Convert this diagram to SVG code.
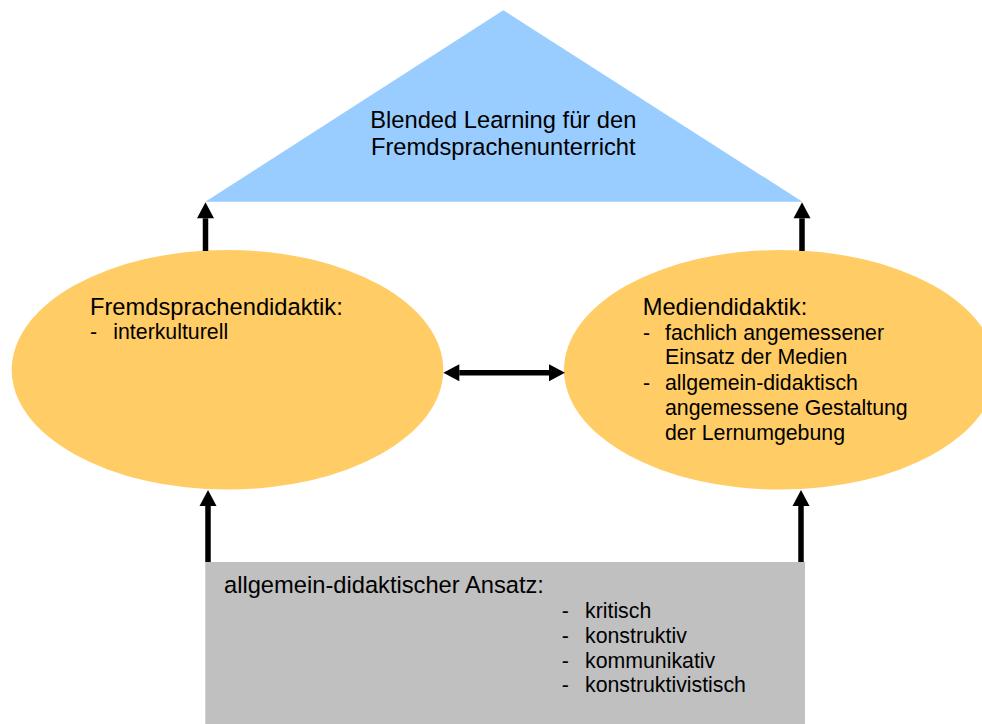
<svg xmlns="http://www.w3.org/2000/svg" width="982" height="724" viewBox="0 0 982 724">
  <style>
    .head { font-family: "Liberation Sans", Arial, sans-serif; font-size: 23.7px; fill: #000; }
    .item { font-family: "Liberation Sans", Arial, sans-serif; font-size: 21.3px; fill: #000; }
    .roof { fill: #99CCFF; }
    .pillar { fill: #FFCC66; }
    .base { fill: #C0C0C0; }
    .conn { stroke: #000; stroke-width: 5.5; fill: none; }
  </style>
  <defs>
    <marker id="arrow" markerUnits="userSpaceOnUse" markerWidth="16" markerHeight="17" refX="0" refY="8.5" orient="auto-start-reverse" overflow="visible">
      <path d="M0,0 L16,8.5 L0,17 z" fill="#000"/>
    </marker>
  </defs>

  <rect width="982" height="724" fill="#fff"/>

  <!-- roof: the goal -->
  <g id="blended-learning">
    <polygon class="roof" points="503.3,10.3 205.3,201.7 802.4,201.7"/>
    <text class="head" x="503.3" y="128.3" text-anchor="middle">Blended Learning für den</text>
    <text class="head" x="503.3" y="155" text-anchor="middle">Fremdsprachenunterricht</text>
  </g>

  <!-- left pillar -->
  <g id="fremdsprachendidaktik">
    <ellipse class="pillar" cx="227.5" cy="369.8" rx="215.8" ry="119.8"/>
    <text class="head" x="90" y="315">Fremdsprachendidaktik:</text>
    <text class="item" x="90" y="339">-</text>
    <text class="item" x="113.3" y="339">interkulturell</text>
  </g>

  <!-- right pillar -->
  <g id="mediendidaktik">
    <ellipse class="pillar" cx="780" cy="369.8" rx="216" ry="119.8"/>
    <text class="head" x="642.7" y="315">Mediendidaktik:</text>
    <text class="item" x="643" y="339.5">-</text>
    <text class="item" x="665" y="339.5">fachlich angemessener</text>
    <text class="item" x="665" y="364">Einsatz der Medien</text>
    <text class="item" x="643" y="390">-</text>
    <text class="item" x="665" y="390">allgemein-didaktisch</text>
    <text class="item" x="665" y="415">angemessene Gestaltung</text>
    <text class="item" x="665" y="439.5">der Lernumgebung</text>
  </g>

  <!-- foundation -->
  <g id="allgemein-didaktischer-ansatz">
    <rect class="base" x="205.3" y="562" width="599.7" height="162"/>
    <text class="head" x="224" y="593.3">allgemein-didaktischer Ansatz:</text>
    <text class="item" x="561.7" y="618.3">-</text>
    <text class="item" x="585" y="618.3">kritisch</text>
    <text class="item" x="561.7" y="643.3">-</text>
    <text class="item" x="585" y="643.3">konstruktiv</text>
    <text class="item" x="561.7" y="667.7">-</text>
    <text class="item" x="585" y="667.7">kommunikativ</text>
    <text class="item" x="561.7" y="691.7">-</text>
    <text class="item" x="585" y="691.7">konstruktivistisch</text>
  </g>

  <!-- connectors -->
  <g id="connectors">
    <line class="conn" x1="205.5" y1="251" x2="205.5" y2="218.3" marker-end="url(#arrow)"/>
    <line class="conn" x1="802" y1="251" x2="802" y2="218.3" marker-end="url(#arrow)"/>
    <line class="conn" x1="208" y1="562" x2="208" y2="506" marker-end="url(#arrow)"/>
    <line class="conn" x1="801" y1="562" x2="801" y2="506" marker-end="url(#arrow)"/>
    <line class="conn" x1="459.3" y1="372.7" x2="549" y2="372.7" marker-start="url(#arrow)" marker-end="url(#arrow)"/>
  </g>
</svg>
